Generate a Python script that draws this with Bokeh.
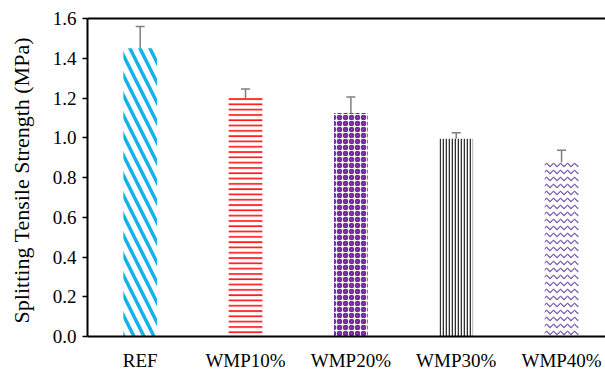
from bokeh.plotting import figure
from bokeh.models import (ColumnDataSource, Range1d, FixedTicker, Whisker, TeeHead,
                          LinearAxis)
from bokeh.embed import file_html
from bokeh.resources import INLINE

categories = ["REF", "WMP10%", "WMP20%", "WMP30%", "WMP40%"]
strength = [1.45, 1.20, 1.125, 0.995, 0.877]
error = [0.11, 0.045, 0.08, 0.03, 0.06]
y_ticks = [0.0, 0.2, 0.4, 0.6, 0.8, 1.0, 1.2, 1.4, 1.6]

colors = ["#14B1EC", "#FF1A1A", "#7030A0", "#333333", "#6A58A8"]
patterns = ["left_diagonal_line", "horizontal_line", "ring", "vertical_line", "horizontal_wave"]
scales = [20, 5.3, 6, 3, 7]
weights = [3.5, 1.7, 2.6, 1.6, 1.2]

xs = [i + 0.5 for i in range(len(categories))]
src = ColumnDataSource(dict(
    x=xs, top=strength, color=colors, pattern=patterns, scale=scales, weight=weights,
    upper=[s + e for s, e in zip(strength, error)],
    lower=[s - e for s, e in zip(strength, error)],
))

FONT = "Liberation Serif"

p = figure(width=605, height=373, output_backend="svg", toolbar_location=None,
           x_range=Range1d(0, 4.917), y_range=Range1d(0, 1.6),
           min_border_left=87, min_border_right=0, min_border_top=18, min_border_bottom=31)
p.outline_line_color = None
p.background_fill_color = "white"
p.border_fill_color = "white"
p.xgrid.visible = False
p.ygrid.visible = False

p.vbar(x="x", top="top", width=0.32, bottom=0, source=src,
       fill_color="white", line_color=None,
       hatch_pattern="pattern", hatch_color="color", hatch_scale="scale", hatch_weight="weight")

wh = Whisker(base="x", upper="upper", lower="lower", source=src,
             line_color="#7F7F7F", line_width=1.5,
             upper_head=TeeHead(size=9, line_color="#7F7F7F", line_width=1.5),
             lower_head=TeeHead(size=9, line_color="#7F7F7F", line_width=1.5))
p.add_layout(wh)

p.xaxis.ticker = FixedTicker(ticks=xs)
p.xaxis.major_label_overrides = {x: c for x, c in zip(xs, categories)}
p.xaxis.major_tick_line_color = None
p.xaxis.minor_tick_line_color = None
p.xaxis.axis_line_color = "black"
p.xaxis.axis_line_width = 2
p.xaxis.major_label_standoff = 7
p.xaxis.major_label_text_font = FONT
p.xaxis.major_label_text_font_size = "19px"
p.xaxis.major_label_text_color = "black"

p.yaxis.ticker = FixedTicker(ticks=y_ticks)
p.yaxis.major_label_overrides = {t: f"{t:.1f}" for t in y_ticks}
p.yaxis.minor_tick_line_color = None
p.yaxis.major_tick_in = 0
p.yaxis.major_tick_out = 5
p.yaxis.major_tick_line_width = 1.5
p.yaxis.major_tick_line_color = "black"
p.yaxis.axis_line_color = "black"
p.yaxis.axis_line_width = 2
p.yaxis.major_label_standoff = 6
p.yaxis.major_label_text_font = FONT
p.yaxis.major_label_text_font_size = "19px"
p.yaxis.major_label_text_color = "black"
p.yaxis.axis_label = "Splitting Tensile  Strength (MPa)"
p.yaxis.axis_label_text_font = FONT
p.yaxis.axis_label_text_font_size = "22px"
p.yaxis.axis_label_text_font_style = "normal"
p.yaxis.axis_label_text_color = "black"
p.yaxis.axis_label_standoff = 16

top_axis = LinearAxis(ticker=FixedTicker(ticks=[]), axis_line_color="black", axis_line_width=2,
                      major_tick_line_color=None, minor_tick_line_color=None,
                      major_label_text_font_size="0px")
p.add_layout(top_axis, "above")

open("out.html", "w").write(file_html(p, INLINE))
